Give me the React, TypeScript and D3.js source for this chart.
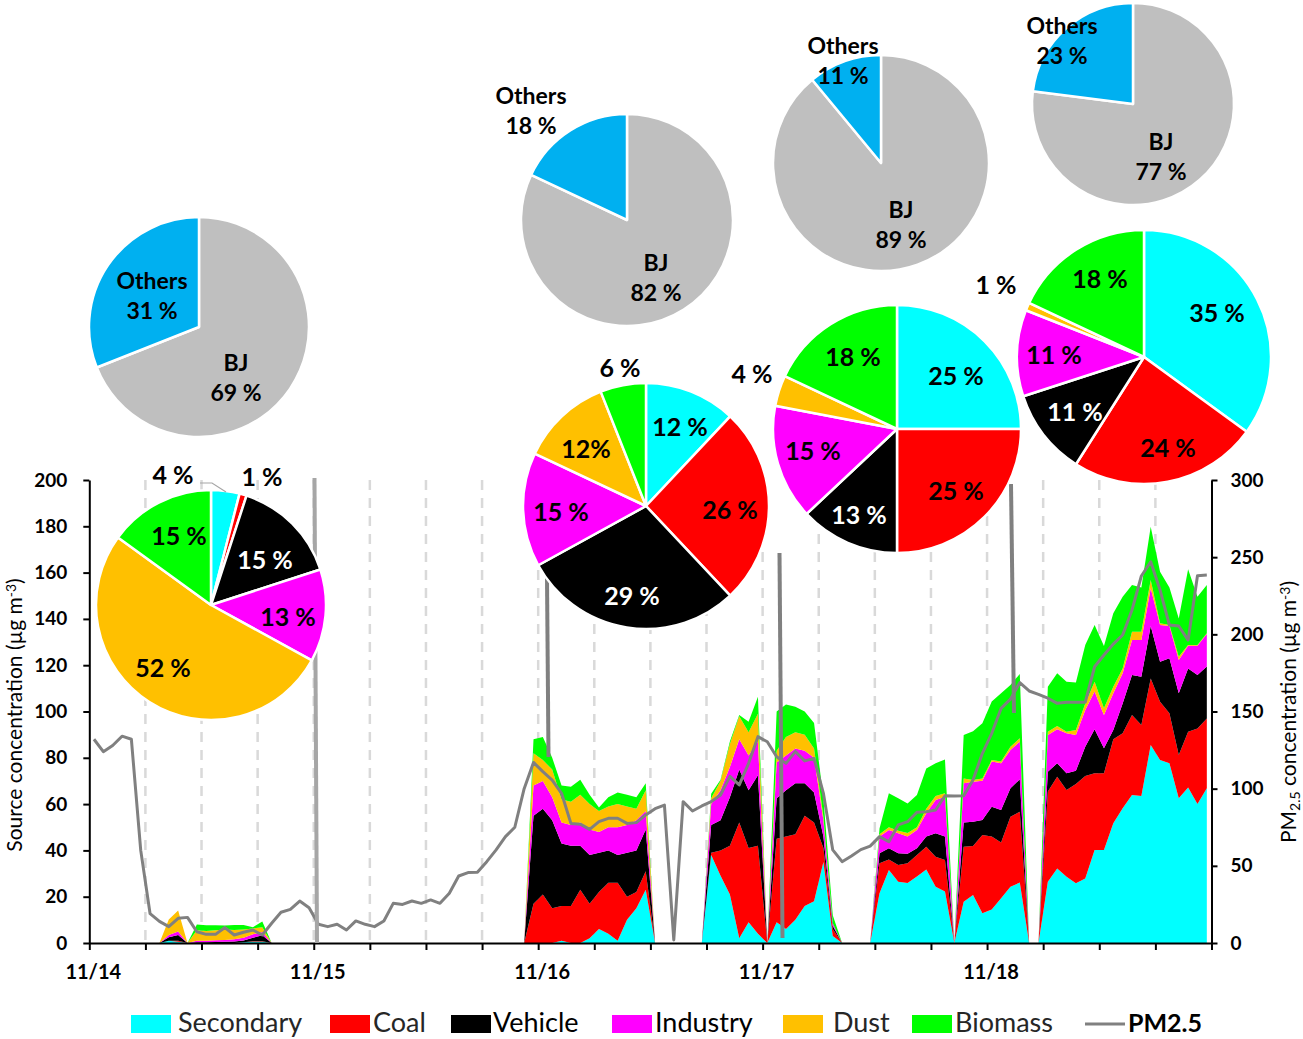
import { useEffect, useRef } from "react"
import * as d3 from "d3"

// hourly source contributions (µg m-3), 11/14 00:00 .. 11/18 23:00, one row per day
const secondary = [
  0, 0, 0, 0, 0, 0, 0, 0, 1, 0.5, 0, 0, 0, 0, 0, 0, 0.3, 0.5, 0.5, 0, 0, 0, 0, 0,
  0, 0, 0, 0, 0, 0, 0, 0, 0, 0, 0, 0, 0, 0, 0, 0, 0, 0, 0, 0, 0, 0, 0, 0,
  0, 0, 1, 0, 0, 2, 6, 4, 1, 10, 15, 23, 0, 0, 0, 0, 0, 0, 38, 29, 21, 2, 9, 4,
  0, 9, 6, 10, 16, 18, 35, 3, 0, 0, 0, 0, 21.5, 31.5, 26.5, 25.9, 28.7, 31.8, 24.3, 22.2, 0, 17.8, 20.7, 12.8,
  14.5, 19.3, 24.3, 26.1, 0, 0, 26.5, 32.2, 28.6, 25.8, 27.9, 40.2, 40.2, 51.7, 58.2, 63.9, 63.5, 85.5, 79, 77.6, 62.5, 67.2, 60, 66.8,
]
const coal = [
  0, 0, 0, 0, 0, 0, 0, 0, 0, 0.5, 0, 0, 0, 0, 0, 0, 0, 0.3, 0.3, 0, 0, 0, 0, 0,
  0, 0, 0, 0, 0, 0, 0, 0, 0, 0, 0, 0, 0, 0, 0, 0, 0, 0, 0, 0, 0, 0, 0, 17,
  21, 15, 15, 16, 23, 15, 16, 22, 25, 10, 7, 8, 0, 0, 0, 0, 0, 0, 1, 11, 21, 50, 32, 38,
  0, 36, 40, 37, 39, 34, 6, 3, 0, 0, 0, 0, 12.9, 4.6, 7.2, 8.5, 9.3, 9.8, 13, 13.7, 0, 23.8, 21.2, 33.9,
  31.5, 24.1, 30.2, 30.6, 0, 0, 38.9, 39.6, 37.5, 42.9, 44.2, 33.1, 33.1, 36.3, 32.4, 34.6, 30.7, 28.8, 25.2, 21.6, 18.7, 24.1, 32.7, 30.2,
]
const vehicle = [
  0, 0, 0, 0, 0, 0, 0, 0, 1.5, 2.5, 0, 0.3, 0.3, 0.4, 0.5, 0.6, 0.8, 1.5, 2.5, 0, 0, 0, 0, 0,
  0, 0, 0, 0, 0, 0, 0, 0, 0, 0, 0, 0, 0, 0, 0, 0, 0, 0, 0, 0, 0, 0, 0, 38,
  37, 38, 27, 26, 19, 21, 17, 14, 12, 19, 18, 18, 0, 0, 0, 0, 0, 0, 12, 13, 21, 23, 25, 30.5,
  0, 17.5, 20, 22, 14, 13, 5, 1.5, 0, 0, 0, 0, 4.4, 4.8, 5.1, 4.1, 2.9, 4.4, 10.1, 10.1, 0, 10.4, 10.5, 6.4,
  12.9, 14.1, 12.3, 14, 0, 0, 8.6, 5.8, 7.2, 5.7, 12.7, 19, 10.8, 4, 12.9, 17.3, 20.8, 22.6, 17.3, 23.8, 26.7, 27.3, 23.1, 22.4,
]
const industry = [
  0, 0, 0, 0, 0, 0, 0, 0, 1, 1.5, 0, 0.7, 0.7, 0.8, 0.8, 1, 1.2, 1.5, 1.5, 0, 0, 0, 0, 0,
  0, 0, 0, 0, 0, 0, 0, 0, 0, 0, 0, 0, 0, 0, 0, 0, 0, 0, 0, 0, 0, 0, 0, 13,
  12, 10, 9, 9, 10, 11, 9, 10, 12, 12, 13, 8, 0, 0, 0, 0, 0, 0, 9, 13, 13, 13, 15, 14.5,
  0, 15.5, 15, 15, 14, 15, 7, 1, 0, 0, 0, 0, 7.2, 7.9, 8.6, 7.5, 7.9, 10, 14.4, 17.2, 0, 17, 17.3, 17,
  19.5, 20.1, 16.6, 16.3, 0, 0, 15.8, 14.7, 17.3, 15.4, 15.8, 16.3, 14.4, 15.9, 13, 15.1, 15.9, 16.3, 15.9, 13.9, 14.3, 9.8, 12.6, 14.1,
]
const dust = [
  0, 0, 0, 0, 0, 0, 0, 0, 6.7, 9, 0, 4.5, 4.2, 4.3, 4.5, 4, 3.5, 2.5, 2, 0, 0, 0, 0, 0,
  0, 0, 0, 0, 0, 0, 0, 0, 0, 0, 0, 0, 0, 0, 0, 0, 0, 0, 0, 0, 0, 0, 0, 14,
  9, 12, 10, 10, 12, 11, 9, 9, 10, 8, 5, 9, 0, 0, 0, 0, 0, 0, 2.5, 4, 10, 10, 10, 12,
  0, 5, 8, 7, 7, 4, 1.5, 0, 0, 0, 0, 0, 1, 1.2, 1.1, 1.5, 1.2, 2, 1.7, 1.5, 0, 2.1, 0.7, 1,
  0.6, 0.8, 1.4, 1.4, 0, 0, 1.5, 1.4, 0.7, 2.2, 2.9, 4.3, 2.9, 2.8, 2.1, 3.6, 3.6, 3.6, 0.7, 0.5, 1.5, 0.3, 0.3, 0.3,
]
const biomass = [
  0, 0, 0, 0, 0, 0, 0, 0, 0, 0, 0, 2.5, 2.5, 2.2, 1.8, 2.2, 2, 0.5, 2.5, 0, 0, 0, 0, 0,
  0, 0, 0, 0, 0, 0, 0, 0, 0, 0, 0, 0, 0, 0, 0, 0, 0, 0, 0, 0, 0, 0, 0, 6,
  10, 5, 6, 6.5, 6.5, 4, 1.5, 4, 5, 5, 5, 3, 0, 0, 0, 0, 0, 0, 2, 0.5, 1, 0.5, 4.6, 7.4,
  0, 17, 14, 11, 10, 11, 8, 3.5, 0, 0, 0, 0, 2.5, 14.7, 14, 12.8, 13.9, 17.4, 14.1, 14.6, 0, 18.7, 21.1, 23.8,
  25.3, 29.5, 26.7, 27.8, 0, 0, 19.4, 22.8, 21.6, 20.5, 25.2, 24.5, 26.9, 31.7, 31, 20.1, 19.1, 23, 22.3, 16.2, 16.5, 32.7, 20.9, 20.8,
]
const pm25 = [
  132, 124, 128, 134, 132, 60, 19, 14, 10.6, 16, 16.6, 7.3, 5.6, 5.6, 10, 5.2, 7, 8.4, 5.2, 12.8, 19.9, 21.8, 27.2, 22.9,
  12.1, 10.6, 12.1, 8.4, 14.3, 12.1, 10.6, 14.3, 25.7, 25, 27.2, 25.7, 27.9, 25.7, 32.2, 43.4, 45.6, 45.8, 52.7, 60.3, 68.9, 75, 100, 117,
  111, 105.6, 97, 77.5, 77, 73.6, 78.6, 80.8, 80.8, 77.5, 78, 83, 87, 89.4, 2, 91.6, 85.5, 88.8, 91.6, 95.9, 108, 102.4, 116.4, 133.7,
  130.4, 120.7, 116.4, 124, 118, 119.6, 97, 60.3, 52.7, 56.4, 60.5, 62.8, 68.9, 65.6, 76.5, 78.6, 84.7, 85.1, 86.2, 95.4, 95.2, 95.4, 105.6, 122.9,
  135.9, 152, 158, 168.7, 163.3, 161.1, 158.6, 155.3, 156, 156, 156, 179, 186.6, 193.7, 199.6, 215.8, 237.8, 247, 228.7, 206, 205.4, 196.3, 238, 238.4,
]

const sourceNames = ["Secondary", "Coal", "Vehicle", "Industry", "Dust", "Biomass"]
const sourceColors = ["#00FFFF", "#FF0000", "#000000", "#FF00FF", "#FFC000", "#00FF00"]
const dayLabels = ["11/14", "11/15", "11/16", "11/17", "11/18"]
const leftTicks = [0, 20, 40, 60, 80, 100, 120, 140, 160, 180, 200]
const rightTicks = [0, 50, 100, 150, 200, 250, 300]

// source apportionment (%) at the four episodes
const sourceShares = [
  [4, 1, 15, 13, 52, 15],
  [12, 26, 29, 15, 12, 6],
  [25, 25, 13, 15, 4, 18],
  [35, 24, 11, 11, 1, 18],
]
// regional origin (%): BJ, Others
const regionNames = ["BJ", "Others"]
const regionColors = ["#BFBFBF", "#00B0F0"]
const regionShares = [
  [69, 31],
  [82, 18],
  [89, 11],
  [77, 23],
]

// layout of the pies and their labels (pixels)
const sourcePieLayout = [
  { cx: 211, cy: 605, r: 115, labels: [[173, 475], [262, 477], [265, 560], [288, 617], [163, 668], [179, 536]] },
  { cx: 646, cy: 506, r: 123, labels: [[680, 427], [730, 510], [632, 596], [561, 512], [586, 449], [620, 368]] },
  { cx: 897, cy: 429, r: 124, labels: [[956, 376], [956, 491], [859, 515], [813, 451], [752, 374], [853, 357]] },
  { cx: 1144, cy: 357, r: 127, labels: [[1217, 313], [1168, 448], [1075, 412], [1054, 355], [996, 285], [1100, 279]] },
]
const regionPieLayout = [
  { cx: 199, cy: 327, r: 110, labels: [[236, 363], [152, 281]] },
  { cx: 627, cy: 220, r: 106, labels: [[656, 263], [531, 96]] },
  { cx: 881, cy: 163, r: 108, labels: [[901, 210], [843, 46]] },
  { cx: 1133, cy: 104, r: 101, labels: [[1161, 142], [1062, 26]] },
]
const leaders = [
  { x1: 314.5, y1: 478, x2: 317, y2: 943, color: "#A6A6A6" },
  { x1: 547, y1: 578, x2: 548.5, y2: 757, color: "#808080" },
  { x1: 779.5, y1: 553, x2: 782.5, y2: 938, color: "#808080" },
  { x1: 1011, y1: 484, x2: 1014, y2: 713, color: "#808080" },
]
const legendLayout = [
  { sx: 131, tx: 178, fill: "#262626" },
  { sx: 330, tx: 373, fill: "#262626" },
  { sx: 451, tx: 493, fill: "#000" },
  { sx: 612, tx: 655, fill: "#000" },
  { sx: 783, tx: 833, fill: "#262626" },
  { sx: 912, tx: 955, fill: "#262626" },
]

const FONT = "Lato, 'Noto Sans', sans-serif"

export default function App() {
  const svgRef = useRef<SVGSVGElement>(null)

  useEffect(() => {
    if (!svgRef.current) return
    const svg = d3.select(svgRef.current)
    svg.selectAll("*").remove()

    const x = d3.scaleLinear().domain([0, 120]).range([89.3, 1211.5])
    const yL = d3.scaleLinear().domain([0, 200]).range([943, 480])
    const yR = d3.scaleLinear().domain([0, 300]).range([943, 480])

    // dashed 6-hour grid
    svg.append("g")
      .selectAll("line")
      .data(d3.range(6, 120, 6))
      .join("line")
      .attr("x1", (d) => x(d))
      .attr("x2", (d) => x(d))
      .attr("y1", 480)
      .attr("y2", 943)
      .attr("stroke", "#D9D9D9")
      .attr("stroke-width", 2.5)
      .attr("stroke-dasharray", "10 8")

    // stacked source areas
    const vals = [secondary, coal, vehicle, industry, dust, biomass]
    const rows = pm25.map((_, i) => {
      const row: Record<string, number> = { hour: i }
      sourceNames.forEach((n, k) => (row[n] = vals[k][i]))
      return row
    })
    const stacked = d3.stack<Record<string, number>>().keys(sourceNames)(rows)
    const area = d3
      .area<d3.SeriesPoint<Record<string, number>>>()
      .x((d) => x(d.data.hour + 0.5))
      .y0((d) => yL(d[0]))
      .y1((d) => yL(d[1]))

    svg.append("g")
      .selectAll("path")
      .data(stacked)
      .join("path")
      .attr("d", area)
      .attr("fill", (_, i) => sourceColors[i])

    // PM2.5 line
    const line = d3
      .line<number>()
      .x((_, i) => x(i + 0.5))
      .y((d) => yR(d))
    svg.append("path")
      .datum(pm25)
      .attr("d", line)
      .attr("fill", "none")
      .attr("stroke", "#808080")
      .attr("stroke-width", 3)
      .attr("stroke-linejoin", "round")

    // axes
    const axisStyle = (g: d3.Selection<SVGGElement, unknown, null, undefined>) => {
      g.selectAll("path").attr("stroke", "#000").attr("stroke-width", 2)
      g.selectAll("line").attr("stroke", "#000").attr("stroke-width", 2)
      g.selectAll("text")
        .attr("font-family", FONT)
        .attr("font-size", 19)
        .attr("font-weight", 700)
        .attr("fill", "#000")
    }

    svg.append("g")
      .attr("transform", "translate(0,943)")
      .call(d3.axisBottom(x).tickValues(d3.range(0, 121, 6)).tickSize(7).tickSizeOuter(0).tickFormat(() => ""))
      .call(axisStyle)

    svg.append("g")
      .selectAll("text")
      .data(dayLabels)
      .join("text")
      .attr("x", (_, i) => x(i * 24) + 4)
      .attr("y", 972)
      .attr("dy", "0.35em")
      .attr("text-anchor", "middle")
      .attr("font-family", FONT)
      .attr("font-size", 20)
      .attr("font-weight", 700)
      .text((d) => d)

    svg.append("g")
      .attr("transform", `translate(${x(0)},0)`)
      .call(d3.axisLeft(yL).tickValues(leftTicks).tickSize(6).tickSizeOuter(0).tickPadding(16))
      .call(axisStyle)

    svg.append("g")
      .attr("transform", `translate(${x(120)},0)`)
      .call(d3.axisRight(yR).tickValues(rightTicks).tickSize(6).tickSizeOuter(0).tickPadding(13))
      .call(axisStyle)

    // axis titles
    const left = svg.append("text")
      .attr("transform", "translate(22,715) rotate(-90)")
      .attr("text-anchor", "middle")
      .attr("font-family", FONT)
      .attr("font-size", 21)
      .attr("fill", "#000")
    left.append("tspan").text("Source concentration (µg m")
    left.append("tspan").attr("dy", -6).attr("font-size", 14).text("-3")
    left.append("tspan").attr("dy", 6).text(")")

    const right = svg.append("text")
      .attr("transform", "translate(1296,712) rotate(-90)")
      .attr("text-anchor", "middle")
      .attr("font-family", FONT)
      .attr("font-size", 21)
      .attr("fill", "#000")
    right.append("tspan").text("PM")
    right.append("tspan").attr("dy", 4).attr("font-size", 14).text("2.5")
    right.append("tspan").attr("dy", -4).text(" concentration (µg m")
    right.append("tspan").attr("dy", -6).attr("font-size", 14).text("-3")
    right.append("tspan").attr("dy", 6).text(")")

    // leader lines from pies to the time axis
    svg.append("g")
      .selectAll("line")
      .data(leaders)
      .join("line")
      .attr("x1", (d) => d.x1)
      .attr("y1", (d) => d.y1)
      .attr("x2", (d) => d.x2)
      .attr("y2", (d) => d.y2)
      .attr("stroke", (d) => d.color)
      .attr("stroke-width", 4)

    const pie = d3.pie<number>().sort(null)

    const drawPie = (cx: number, cy: number, r: number, values: number[], colors: string[]) => {
      const arc = d3.arc<d3.PieArcDatum<number>>().innerRadius(0).outerRadius(r)
      svg.append("g")
        .attr("transform", `translate(${cx},${cy})`)
        .selectAll("path")
        .data(pie(values))
        .join("path")
        .attr("d", arc)
        .attr("fill", (_, i) => colors[i])
        .attr("stroke", "#fff")
        .attr("stroke-width", 2.5)
        .attr("stroke-linejoin", "round")
    }

    // regional pies
    regionPieLayout.forEach((p, k) => {
      drawPie(p.cx, p.cy, p.r, regionShares[k], regionColors)
      p.labels.forEach(([lx, ly], j) => {
        const t = svg.append("text")
          .attr("x", lx)
          .attr("y", ly)
          .attr("text-anchor", "middle")
          .attr("font-family", FONT)
          .attr("font-size", 23)
          .attr("font-weight", 700)
          .attr("fill", "#000")
        t.append("tspan").attr("x", lx).attr("dy", "0.35em").text(regionNames[j])
        t.append("tspan").attr("x", lx).attr("dy", 30).text(`${regionShares[k][j]} %`)
      })
    })

    // source pies
    sourcePieLayout.forEach((p, k) => {
      drawPie(p.cx, p.cy, p.r, sourceShares[k], sourceColors)
      svg.append("g")
        .selectAll("text")
        .data(p.labels)
        .join("text")
        .attr("x", (d) => d[0])
        .attr("y", (d) => d[1])
        .attr("dy", "0.35em")
        .attr("text-anchor", "middle")
        .attr("font-family", FONT)
        .attr("font-size", 25)
        .attr("font-weight", 700)
        .attr("fill", (_, j) => (j === 2 ? "#fff" : "#000"))
        .text((_, j) => (k === 1 && j === 4 ? `${sourceShares[k][j]}%` : `${sourceShares[k][j]} %`))
    })

    // small leader for the 4 % label
    svg.append("polyline")
      .attr("points", "200,483 212,483 226,492")
      .attr("fill", "none")
      .attr("stroke", "#A6A6A6")
      .attr("stroke-width", 1.2)

    // legend
    const legend = svg.append("g")
    legendLayout.forEach((l, i) => {
      legend.append("rect")
        .attr("x", l.sx)
        .attr("y", 1015)
        .attr("width", 40)
        .attr("height", 18)
        .attr("fill", sourceColors[i])
      legend.append("text")
        .attr("x", l.tx)
        .attr("y", 1032)
        .attr("font-family", FONT)
        .attr("font-size", 27)
        .attr("fill", l.fill)
        .text(sourceNames[i])
    })
    legend.append("line")
      .attr("x1", 1085)
      .attr("x2", 1125)
      .attr("y1", 1024)
      .attr("y2", 1024)
      .attr("stroke", "#808080")
      .attr("stroke-width", 3)
    legend.append("text")
      .attr("x", 1128)
      .attr("y", 1032)
      .attr("font-family", FONT)
      .attr("font-size", 25)
      .attr("font-weight", 700)
      .text("PM2.5")
  }, [])

  return (
    <svg
      ref={svgRef}
      width={1303}
      height={1039}
      style={{ position: "absolute", left: 0, top: 0, display: "block", background: "#fff" }}
    />
  )
}
